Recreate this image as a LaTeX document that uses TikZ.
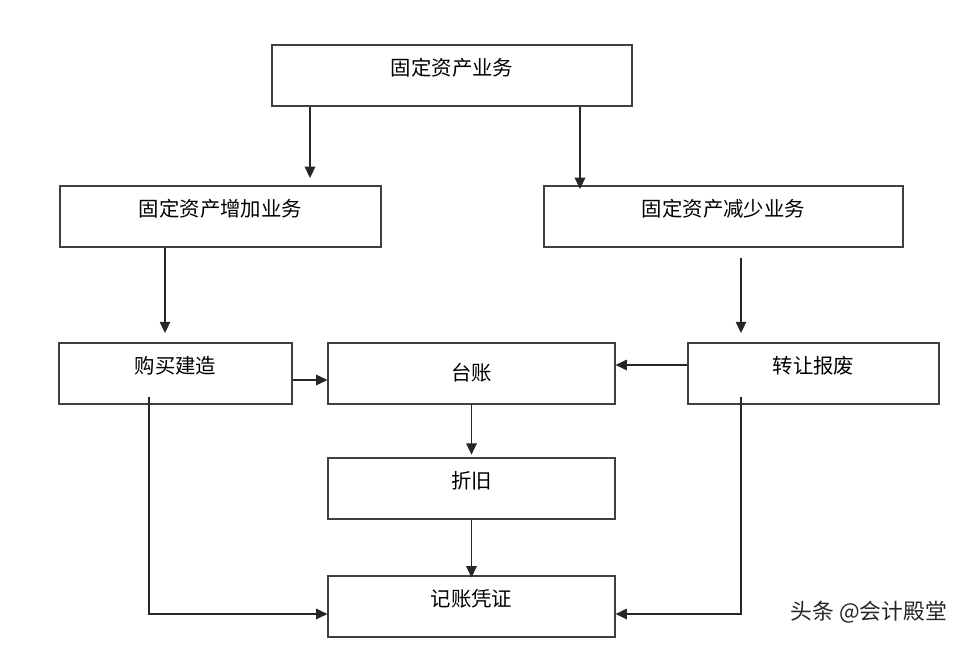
\documentclass[tikz,border=0pt]{standalone}
\usepackage{fontspec}
\newfontfamily\cjk{Noto Sans CJK SC}
\usetikzlibrary{arrows.meta}
\begin{document}
\begin{tikzpicture}[x=0.025cm,y=-0.025cm,
        box/.style={draw=black!75,line width=0.8pt,minimum height=1.525cm,inner sep=0pt,
            font=\cjk\fontsize{14.5pt}{17pt}\selectfont,text depth=12pt},
        arr/.style={draw=black!85,line width=0.8pt,-{Triangle[length=8pt,width=7.5pt]}}]
        \useasboundingbox (0,0) rectangle (978,648);

        \node[box,minimum width=9cm] (top) at (452,75.5) {固定资产业务};
        \node[box,minimum width=8.025cm] (add) at (220.5,216.5) {固定资产增加业务};
        \node[box,minimum width=8.975cm] (sub) at (723.5,216.5) {固定资产减少业务};
        \node[box,minimum width=5.825cm] (buy) at (175.5,373.5) {购买建造};
        \node[box,minimum width=7.175cm,text depth=2pt] (ledger) at (471.5,373.5) {台账};
        \node[box,minimum width=6.275cm] (sell) at (813.5,373.5) {转让报废};
        \node[box,minimum width=7.175cm] (depr) at (471.5,488.5) {折旧};
        \node[box,minimum width=7.175cm] (voucher) at (471.5,606.5) {记账凭证};

        \coordinate (c1) at (310,178);
        \coordinate (c2) at (580,189);
        \coordinate (c3) at (165,333);
        \coordinate (c4) at (741,258);
        \coordinate (c5) at (741,333);
        \coordinate (c6) at (149,397);
        \coordinate (c7) at (741,397);

        \draw[arr] (top.south -| c1) -- (c1);
        \draw[arr] (top.south -| c2) -- (c2);
        \draw[arr] (add.south -| c3) -- (c3);
        \draw[arr] (c4) -- (c5);
        \draw[arr] (buy.east |- 0,380) -- (ledger.west |- 0,380);
        \draw[arr] (sell.west |- 0,365) -- (ledger.east |- 0,365);
        \draw[arr] (ledger.south) -- ([yshift=0.07cm]depr.north);
        \draw[arr] (depr.south) -- ([yshift=-0.05cm]voucher.north);
        \draw[arr] (c6) |- (voucher.west |- 0,614);
        \draw[arr] (c7) |- (voucher.east |- 0,614);

        \node[font=\cjk\fontsize{15.5pt}{18pt}\selectfont,text=black!85] (wmark) at (869,612) {头条 @会计殿堂};
\end{tikzpicture}
\end{document}
